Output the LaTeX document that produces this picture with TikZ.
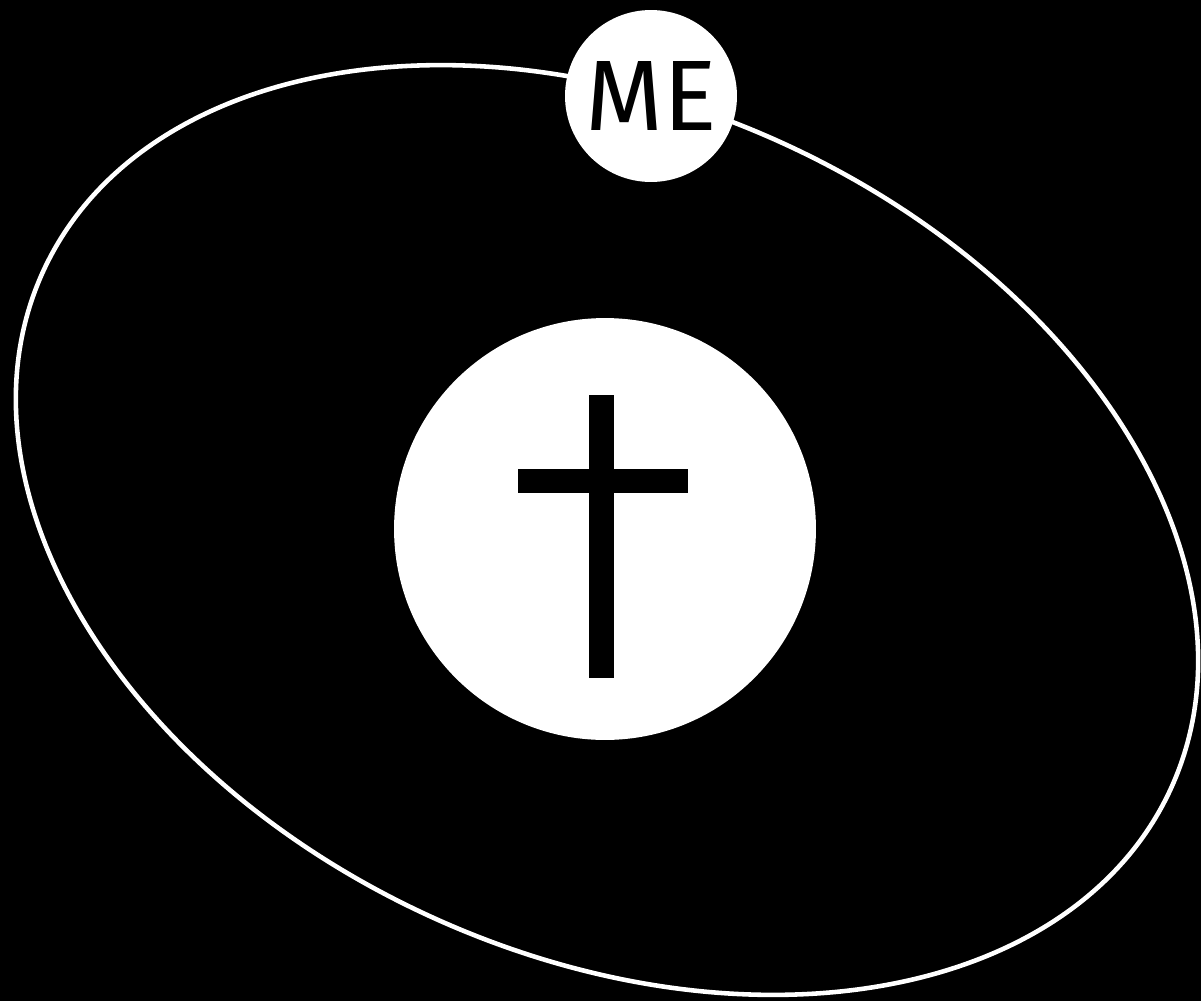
\documentclass[tikz,border=0pt]{standalone}
\usepackage{fontspec}
\newfontfamily\handfont{Fira Sans}
\usetikzlibrary{positioning}

\begin{document}
\begin{tikzpicture}[
        x=0.02cm, y=-0.02cm,
        every node/.style={align=center},
        disc/.style={circle, fill=white, inner sep=0pt, outer sep=0pt},
        orbit/.style={draw=white, line width=2.6pt},
        bar/.style={fill=black}
    ]
%
    % Fond
    \fill[black] (0,0) rectangle (1201,1001);
    \useasboundingbox (0,0) rectangle (1201,1001);
%
    % Orbite
    \draw[orbit] (607,530) ellipse [x radius=12.41cm, y radius=8.50cm, rotate=-24.65];
%
    % Disque central et croix
    \node[disc, minimum size=8.44cm] (christ) at (605,529) {};
    \fill[bar] (589,395) rectangle (614,678);
    \fill[bar] (518,469) rectangle (688,493);
%
    % Disque ME sur l'orbite
    \node[disc, minimum size=3.44cm, font=\handfont\fontsize{57}{62}\selectfont] (me) at (651,96) {ME};
%
\end{tikzpicture}
\end{document}
